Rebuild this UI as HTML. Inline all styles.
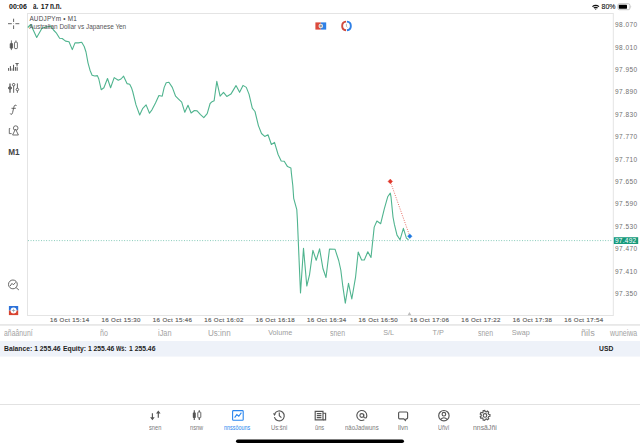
<!DOCTYPE html>
<html><head><meta charset="utf-8">
<style>
*{margin:0;padding:0;box-sizing:border-box}
html,body{width:640px;height:447px;overflow:hidden;background:#fff}
body{position:relative;font-family:"Liberation Sans",sans-serif;color:#222}
.t{position:absolute;white-space:nowrap;line-height:1}
.sb{font-weight:bold;font-size:7px;color:#111}
.px{font-size:6.5px;color:#707070;letter-spacing:0.45px}
.tx{font-size:6.1px;color:#606060;letter-spacing:0.38px;-webkit-text-stroke:0.15px #606060}
.hd{font-size:7.2px;color:#9c9c9c}
.tab{font-size:5.2px;color:#777}
svg{position:absolute;left:0;top:0}
</style></head><body>
<!-- status bar -->
<div class="t sb" style="left:9px;top:3.2px">00:06</div>
<div class="t" style="left:32.80px;top:2.00px;font-size:9px;color:#111;font-weight:bold;transform:scaleX(0.679);transform-origin:0 0;">a.</div>
<div class="t sb" style="left:40.8px;top:3.2px">17</div>
<div class="t" style="left:49.60px;top:2.00px;font-size:9px;color:#111;font-weight:bold;transform:scaleX(0.719);transform-origin:0 0;">n.n.</div>
<div class="t sb" style="left:601.5px;top:3.2px;font-weight:normal;-webkit-text-stroke:0.1px #111">80%</div>

<svg width="640" height="447" viewBox="0 0 640 447">
  <!-- wifi -->
  <g fill="#111">
    <path d="M592 6.2 A6 6 0 0 1 599.4 6.2 L598.6 7 A4.8 4.8 0 0 0 592.8 7 Z"/>
    <path d="M593.4 7.6 A4 4 0 0 1 598 7.6 L597.2 8.4 A2.8 2.8 0 0 0 594.2 8.4 Z"/>
    <path d="M595.7 9.8 L594.8 8.9 A1.4 1.4 0 0 1 596.6 8.9 Z"/>
  </g>
  <!-- battery -->
  <rect x="617.9" y="3.7" width="12" height="6" rx="1.6" fill="none" stroke="#b8b8b8" stroke-width="0.8"/>
  <rect x="618.8" y="4.8" width="8.2" height="3.9" rx="0.6" fill="#000"/>
  <path d="M630.6 5.6 Q631.9 6.7 630.6 7.9 Z" fill="#b8b8b8"/>

  <!-- chart frame -->
  <rect x="27.5" y="13.5" width="585.8" height="302" fill="none" stroke="#e4e4e4" stroke-width="1"/>
  <!-- separators -->
  <rect x="0" y="324" width="640" height="1.8" fill="#e8e8e8"/>
  <rect x="0" y="341" width="640" height="15.6" fill="#eef2f9"/>
  <rect x="0" y="404" width="640" height="1" fill="#e2e2e2"/>

  <!-- current price dotted line -->
  <line x1="28" y1="240.6" x2="613" y2="240.6" stroke="#4fb39a" stroke-width="0.75" stroke-dasharray="0.9 1.7"/>
  <!-- price line -->
  <polyline fill="none" stroke="#50b48f" stroke-width="1.1" stroke-linejoin="round" points="27.8,27.5 30.7,24.5 36.7,37.5 42.1,28.1 47.5,26.8 50.8,26.1 53.5,30 56.2,32.8 59.6,38.2 62.2,38.5 65.6,41.1 69,41.8 72.3,49.6 75,42.9 78.3,42.9 81.7,42.2 84.2,46.5 86,52 88,62.8 90,70.2 92.1,75.2 94.8,76 97.4,75.6 98.8,79 101.2,89.7 103.9,87.7 107.5,78.5 110.6,87.7 114.2,77.6 118.3,80.3 121,79 123.6,76.2 127,83.6 129.7,84.3 131.7,88.3 132.7,91.5 136,104.9 139.7,115 142.8,108.3 146.1,104.9 149.5,113.2 152.1,109.6 155.5,102.9 158.9,95.5 162.2,96.2 164.2,87.4 166.2,82.8 168.9,82.3 172.3,87.4 175.6,96.2 178.3,98.9 181.7,102.2 184.8,112.3 188,105.2 191.1,113 194.4,110.5 197.1,110.9 200.5,114.6 203.8,117.7 207.2,113.6 210.1,103.5 212.1,101.7 214.1,100.8 216.8,81.3 220.1,96.1 223.5,92.3 226.8,96.4 230.9,94.1 236,85.6 239.6,92.3 243,85.4 246.3,87.4 249,94.1 252.3,108.2 255,111.5 258.4,125.6 261.5,133.5 264.7,136.4 268,134.7 271.4,144.5 274.5,142.4 278.1,154.5 281.2,161 284.2,161.2 287.5,166.6 290.9,168 291.4,173.4 292.8,185.5 293.7,198.3 296.8,209.7 297.4,220 299.5,270 300.5,293 303.5,248.3 306.8,286 309.5,274.8 312.9,250.3 316.2,260.3 319.6,248.9 323,268.8 326,277.5 329.5,249 335,249.2 338.7,260.5 340.8,270 342.8,286.2 345.3,303.2 348.5,283.3 351.8,299 355.6,276.8 358.2,252 361.6,260 364.3,260 367.8,251.8 371,257.5 374.2,227.1 376.9,221 380.7,223.7 384.3,208.9 387.7,196.8 390.3,193.1 391,196.8 393,217 394.4,224.4 397,235.1 400,239.8 403.4,228.4 406.4,238.1 408.5,239.8"/>
  <!-- trade markers -->
  <line x1="390.3" y1="181.4" x2="409.8" y2="236.2" stroke="#e0483c" stroke-width="0.8" stroke-dasharray="1 1.4"/>
  <path d="M390.3 179.1 L392.6 181.4 L390.3 183.7 L388 181.4 Z" fill="#e0372b" stroke="#e0372b" stroke-width="0.4" stroke-linejoin="round"/>
  <path d="M409.8 233.9 L412.1 236.2 L409.8 238.5 L407.5 236.2 Z" fill="#1f78e0" stroke="#1f78e0" stroke-width="0.4" stroke-linejoin="round"/>
  <!-- bottom triangle marker -->
  <path d="M409.4 312 L411.4 315.2 L407.6 315.2 Z" fill="#bdbdbd"/>
  <!-- price box -->
  <rect x="613.8" y="237.2" width="24.4" height="6.8" fill="#179a7c"/>

  <!-- left toolbar icons -->
  <g stroke="#555" stroke-width="0.9" fill="none">
    <!-- crosshair -->
    <path d="M8 23.7 H11.8 M15.4 23.7 H19.3 M13.6 18.7 V22 M13.6 25.4 V29"/>
  </g>
  <circle cx="13.6" cy="23.7" r="0.35" fill="#555"/>
  <!-- candles -->
  <g fill="#555" stroke="#555" stroke-width="0.8">
    <line x1="11.4" y1="40.4" x2="11.4" y2="50.1"/>
    <rect x="10.2" y="43.4" width="2.4" height="4.8" rx="0.5"/>
    <line x1="15.95" y1="40.4" x2="15.95" y2="49.2"/>
    <rect x="14.5" y="42.2" width="2.9" height="6.3" rx="0.6" fill="#fff"/>
  </g>
  <!-- indicators -->
  <g fill="#5a5a5a">
    <rect x="8.1" y="68" width="1" height="2.8"/>
    <rect x="9.9" y="66.1" width="1.05" height="4.7"/>
    <rect x="11.5" y="68.4" width="1" height="2.4" fill="#8a8a8a"/>
    <rect x="13" y="64.8" width="1.05" height="6"/>
    <rect x="14.9" y="67" width="1" height="3.8"/>
    <rect x="16.6" y="67.2" width="1.1" height="3.6"/>
    <rect x="15.4" y="63" width="3.3" height="0.9"/>
    <path d="M16.3 63.8 H17.8 L17.4 66.6 H16.7 Z"/>
  </g>
  <!-- sliders -->
  <g stroke="#555" stroke-width="0.9" fill="#fff">
    <line x1="10" y1="83.4" x2="10" y2="92.8" stroke="#707070" stroke-width="1.5"/>
    <line x1="13.65" y1="83.4" x2="13.65" y2="92.8"/>
    <line x1="17.4" y1="83.4" x2="17.4" y2="92.8"/>
    <ellipse cx="10" cy="88" rx="1.6" ry="1.3" fill="#666" stroke="#666"/>
    <circle cx="13.65" cy="84.7" r="1.25"/>
    <circle cx="17.4" cy="89.5" r="1.25"/>
  </g>
  <!-- function f -->
  <path d="M16.4 105.6 Q15.9 104.8 15 105.1 Q14.1 105.5 13.8 107.4 L12.6 112.6 Q12.2 114.3 11.2 114.4 Q10.6 114.4 10.4 113.9 M11.9 108.3 H15.4" fill="none" stroke="#555" stroke-width="0.9" stroke-linecap="round"/>
  <!-- shapes -->
  <g stroke="#555" stroke-width="0.85" fill="none">
    <path d="M10.2 128.5 H9.3 V133.6 H11.6"/>
    <circle cx="15.7" cy="128.1" r="2.3"/>
    <path d="M15.5 129 L18.4 135 H12.6 Z" fill="#fff"/>
  </g>
  <!-- zoom search -->
  <g stroke="#555" stroke-width="0.9" fill="none">
    <circle cx="12.9" cy="284.4" r="4.4"/>
    <path d="M16.1 287.6 L18.9 290"/>
    <path d="M10.1 286 L12 283.4 L13.4 284.8 L15.6 282.4"/>
  </g>
  <!-- blue/red app icon -->
  <rect x="8.9" y="306" width="9.3" height="4.6" fill="#2d72d9"/>
  <rect x="8.9" y="310.5" width="9.3" height="4.6" fill="#d8432f"/>
  <circle cx="13.55" cy="310.5" r="3" fill="#fff"/>
  <path d="M13.55 308.8 V312.2 M11.85 310.5 H15.25" stroke="#8a9aa8" stroke-width="0.7"/>

  <!-- top center icons -->
  <rect x="315.4" y="22.4" width="5.4" height="7.2" fill="#db4a3c"/>
  <rect x="320.8" y="22.4" width="5.4" height="7.2" fill="#2f80e6"/>
  <circle cx="320.8" cy="26" r="2.3" fill="#e6e6e6"/>
  <circle cx="320.8" cy="26" r="1.2" fill="#9a9a9a"/>
  <path d="M346.05 30.18 A4.3 4.3 0 0 1 346.05 21.62" fill="none" stroke="#cf4a3e" stroke-width="1.9"/>
  <path d="M346.95 21.62 A4.3 4.3 0 0 1 346.95 30.18" fill="none" stroke="#2f80e6" stroke-width="1.9"/>
  <path d="M346.4 23.8 V26.3 L347.4 27.4" fill="none" stroke="#999" stroke-width="0.7"/>

  <!-- bottom tab icons -->
  <g stroke="#555" stroke-width="1.15" fill="none">
    <!-- quotes arrows -->
    <path d="M152.4 413.2 V418.6"/>
    <path d="M158.3 417.8 V412.4"/>
    <!-- chart candles -->
    <line x1="194.3" y1="410.2" x2="194.3" y2="420"/>
    <line x1="199.3" y1="410.2" x2="199.3" y2="420"/>
  </g>
  <path d="M150.1 417.2 L152.4 420.2 L154.7 417.2 Z M156 413.6 L158.3 410.6 L160.6 413.6 Z" fill="#555"/>
  <rect x="192.8" y="412.4" width="3" height="5.6" rx="0.7" fill="#555"/>
  <rect x="197.8" y="412" width="3" height="5.8" rx="0.7" fill="#fff" stroke="#555" stroke-width="0.9"/>
  <!-- trade (active) -->
  <rect x="232.6" y="410.6" width="10.6" height="9.6" rx="0.8" fill="none" stroke="#2a86ee" stroke-width="1.1"/>
  <path d="M234.6 417.6 L236.8 414.6 L238.8 416.2 L241.4 412.6" fill="none" stroke="#2a86ee" stroke-width="1.1"/>
  <!-- history -->
  <g stroke="#555" stroke-width="1.15" fill="none">
    <path d="M274.8 413.6 A5 5 0 1 1 274.4 417.2"/>
    <path d="M279.3 412.6 V415.8 L281.4 417.6"/>
  </g>
  <path d="M273 413.2 L276.2 413.4 L274.4 416 Z" fill="#555"/>
  <!-- news -->
  <g stroke="#555" stroke-width="1.15" fill="none">
    <path d="M315.2 411.4 H323 V419.8 H315.2 Z"/>
    <path d="M323 413.2 H325.6 V419.8 H323"/>
    <path d="M316.8 413.6 H321.4 M316.8 415.6 H321.4 M316.8 417.6 H321.4"/>
  </g>
  <!-- @ -->
  <g stroke="#555" stroke-width="1.15" fill="none">
    <circle cx="361.8" cy="415.5" r="1.9"/>
    <path d="M363.7 414 V416.2 Q363.7 418 365.3 418 Q366.8 418 366.8 415.5 A5 5 0 1 0 364.3 419.8"/>
  </g>
  <!-- chat -->
  <g stroke="#555" stroke-width="1.15" fill="none">
    <path d="M399.6 412 H406.6 Q407.6 412 407.6 413 V417.8 Q407.6 418.8 406.6 418.8 H406.2 L405.4 420.5 L403.8 418.8 H399.6 Q398.6 418.8 398.6 417.8 V413 Q398.6 412 399.6 412 Z"/>
  </g>
  <!-- account -->
  <g stroke="#555" stroke-width="1.15" fill="none">
    <circle cx="443.9" cy="415.7" r="5.2"/>
    <circle cx="443.9" cy="414.2" r="1.8"/>
    <path d="M440.4 419.6 Q443.9 415.8 447.4 419.6"/>
  </g>
  <!-- settings gear -->
  <g stroke="#555" stroke-width="1.15" fill="none">
    <path d="M488.64 414.31 L489.93 414.56 L489.93 416.24 L488.64 416.49 L488.42 417.05 L488.12 417.56 L488.73 418.73 L487.42 419.78 L486.41 418.93 L485.85 419.10 L485.26 419.19 L484.72 420.39 L483.09 420.02 L483.12 418.71 L482.63 418.37 L482.20 417.96 L480.92 418.29 L480.20 416.78 L481.25 415.99 L481.20 415.40 L481.25 414.81 L480.20 414.02 L480.92 412.51 L482.20 412.84 L482.63 412.43 L483.12 412.09 L483.09 410.78 L484.72 410.41 L485.26 411.61 L485.85 411.70 L486.41 411.87 L487.42 411.02 L488.73 412.07 L488.12 413.24 L488.42 413.75 Z"/>
    <circle cx="485" cy="415.4" r="1.8"/>
  </g>
  <!-- home indicator -->
  <rect x="236" y="439.4" width="168" height="3.6" rx="1.8" fill="#000"/>
</svg>

<!-- symbol header -->
<div class="t" style="left:29.4px;top:16px;font-size:6.4px;color:#484848;letter-spacing:0.2px">AUDJPYm &#8226; M1</div>
<div class="t" style="left:29.2px;top:23.6px;font-size:6.4px;color:#555">Australian Dollar vs Japanese Yen</div>

<!-- M1 -->
<div class="t" style="left:8.2px;top:148.6px;font-size:8.2px;font-weight:bold;color:#444">M1</div>
<!-- f -->


<div class="t px" style="left:615px;top:22.13px">98.070</div>
<div class="t px" style="left:615px;top:44.53px">98.010</div>
<div class="t px" style="left:615px;top:66.93px">97.950</div>
<div class="t px" style="left:615px;top:89.33px">97.890</div>
<div class="t px" style="left:615px;top:111.73px">97.830</div>
<div class="t px" style="left:615px;top:134.13px">97.770</div>
<div class="t px" style="left:615px;top:156.53px">97.710</div>
<div class="t px" style="left:615px;top:178.93px">97.650</div>
<div class="t px" style="left:615px;top:201.33px">97.590</div>
<div class="t px" style="left:615px;top:223.73px">97.530</div>
<div class="t px" style="left:615px;top:246.13px">97.470</div>
<div class="t px" style="left:615px;top:268.53px">97.410</div>
<div class="t px" style="left:615px;top:290.93px">97.350</div>
<div class="t tx" style="left:50.00px;top:317.0px">16 Oct 15:14</div>
<div class="t tx" style="left:101.42px;top:317.0px">16 Oct 15:30</div>
<div class="t tx" style="left:152.84px;top:317.0px">16 Oct 15:46</div>
<div class="t tx" style="left:204.26px;top:317.0px">16 Oct 16:02</div>
<div class="t tx" style="left:255.68px;top:317.0px">16 Oct 16:18</div>
<div class="t tx" style="left:307.10px;top:317.0px">16 Oct 16:34</div>
<div class="t tx" style="left:358.52px;top:317.0px">16 Oct 16:50</div>
<div class="t tx" style="left:409.94px;top:317.0px">16 Oct 17:06</div>
<div class="t tx" style="left:461.36px;top:317.0px">16 Oct 17:22</div>
<div class="t tx" style="left:512.78px;top:317.0px">16 Oct 17:38</div>
<div class="t tx" style="left:564.20px;top:317.0px">16 Oct 17:54</div>
<div class="t" style="left:615px;top:237.5px;font-size:6.5px;color:#fff;letter-spacing:0.25px">97.492</div>

<!-- header row -->
<div class="t" style="left:4.40px;top:329.10px;font-size:8.5px;color:#a3a3a3;transform:scaleX(0.807);transform-origin:0 0;">añaânuní</div>
<div class="t" style="left:100.40px;top:329.10px;font-size:8.5px;color:#a3a3a3;transform:scaleX(0.836);transform-origin:0 0;">ño</div>
<div class="t" style="left:158.20px;top:329.10px;font-size:8.5px;color:#a3a3a3;transform:scaleX(0.866);transform-origin:0 0;">iJan</div>
<div class="t" style="left:208.00px;top:329.10px;font-size:8.5px;color:#a3a3a3;transform:scaleX(0.942);transform-origin:0 0;">Us:inn</div>
<div class="t" style="left:329.50px;top:329.10px;font-size:8.5px;color:#a3a3a3;transform:scaleX(0.814);transform-origin:0 0;">snen</div>
<div class="t" style="left:477.50px;top:329.10px;font-size:8.5px;color:#a3a3a3;transform:scaleX(0.814);transform-origin:0 0;">snen</div>
<div class="t" style="left:581.00px;top:329.10px;font-size:8.5px;color:#a3a3a3;transform:scaleX(1.074);transform-origin:0 0;">ñils</div>
<div class="t" style="left:610.00px;top:329.10px;font-size:8.5px;color:#a3a3a3;transform:scaleX(0.822);transform-origin:0 0;">wuneiwa</div>
<div class="t hd" style="left:268.2px;top:329.4px">Volume</div>
<div class="t hd" style="left:383.2px;top:329.4px">S/L</div>
<div class="t hd" style="left:432.5px;top:329.4px">T/P</div>
<div class="t hd" style="left:511.8px;top:329.4px">Swap</div>

<!-- balance row -->
<div class="t" style="left:4.4px;top:345.2px;font-size:7.3px;font-weight:bold;color:#1e1e1e;transform:scaleX(0.93);transform-origin:0 0">Balance: 1 255.46</div>
<div class="t" style="left:63.4px;top:345.2px;font-size:7.3px;font-weight:bold;color:#1e1e1e;transform:scaleX(0.93);transform-origin:0 0">Equity: 1 255.46</div>
<div class="t" style="left:115.9px;top:345.2px;font-size:7.3px;font-weight:bold;color:#1e1e1e;transform:scaleX(0.78);transform-origin:0 0">Wš:</div>
<div class="t" style="left:128.7px;top:345.2px;font-size:7.3px;font-weight:bold;color:#1e1e1e;transform:scaleX(0.93);transform-origin:0 0">1 255.46</div>
<div class="t" style="left:599px;top:345.2px;font-size:7.3px;font-weight:bold;color:#1e1e1e;transform:scaleX(0.93);transform-origin:0 0">USD</div>

<!-- tab labels -->
<div class="t" style="left:149.00px;top:423.80px;font-size:7.7px;color:#7a7a7a;transform:scaleX(0.737);transform-origin:0 0;">snen</div>
<div class="t" style="left:189.80px;top:423.80px;font-size:7.7px;color:#7a7a7a;transform:scaleX(0.734);transform-origin:0 0;">nsnw</div>
<div class="t" style="left:224.10px;top:423.80px;font-size:7.7px;color:#2a86ee;transform:scaleX(0.706);transform-origin:0 0;">nnssôouns</div>
<div class="t" style="left:271.00px;top:423.80px;font-size:7.7px;color:#7a7a7a;transform:scaleX(0.757);transform-origin:0 0;">Us:šni</div>
<div class="t" style="left:315.30px;top:423.80px;font-size:7.7px;color:#7a7a7a;transform:scaleX(0.741);transform-origin:0 0;">ŭns</div>
<div class="t" style="left:344.50px;top:423.80px;font-size:7.7px;color:#7a7a7a;transform:scaleX(0.779);transform-origin:0 0;">nâoJadwuns</div>
<div class="t" style="left:398.00px;top:423.80px;font-size:7.7px;color:#7a7a7a;transform:scaleX(0.865);transform-origin:0 0;">llvn</div>
<div class="t" style="left:438.20px;top:423.80px;font-size:7.7px;color:#7a7a7a;transform:scaleX(0.714);transform-origin:0 0;">Uñvî</div>
<div class="t" style="left:473.20px;top:423.80px;font-size:7.7px;color:#7a7a7a;transform:scaleX(0.897);transform-origin:0 0;">nnsãJñi</div>
</body></html>
